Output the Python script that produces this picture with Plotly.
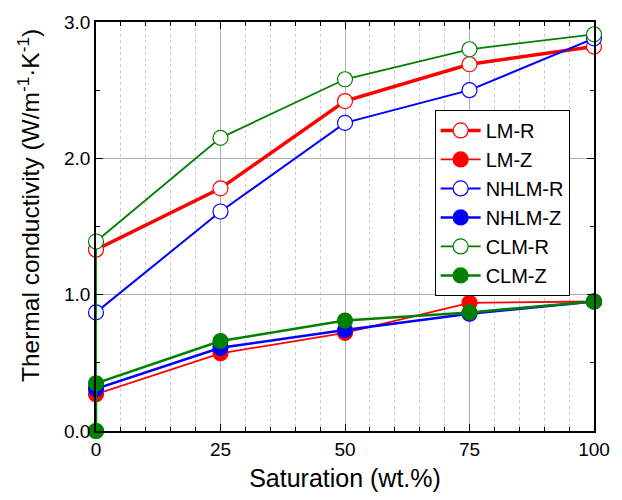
import plotly.graph_objects as go

saturation = [0, 25, 50, 75, 100]
lm_r = [1.33, 1.78, 2.42, 2.69, 2.82]
lm_z = [0.27, 0.57, 0.72, 0.94, 0.95]
nhlm_r = [0.87, 1.61, 2.26, 2.50, 2.88]
nhlm_z = [0.31, 0.61, 0.74, 0.86, 0.95]
clm_r_x = [0, 0, 25, 50, 75, 100]
clm_r = [0.0, 1.39, 2.15, 2.58, 2.80, 2.91]
clm_z_x = [0, 0, 25, 50, 75, 100]
clm_z = [0.0, 0.35, 0.66, 0.81, 0.87, 0.95]

RED = "#FF0000"
BLUE = "#0000FF"
GREEN = "#008000"

series = [
    ("LM-R", saturation, lm_r, RED, True, 3.5),
    ("LM-Z", saturation, lm_z, RED, False, 1.8),
    ("NHLM-R", saturation, nhlm_r, BLUE, True, 2.0),
    ("NHLM-Z", saturation, nhlm_z, BLUE, False, 2.5),
    ("CLM-R", clm_r_x, clm_r, GREEN, True, 1.8),
    ("CLM-Z", clm_z_x, clm_z, GREEN, False, 2.5),
]

fig = go.Figure()
for name, xs, ys, color, is_open, lw in series:
    fig.add_trace(go.Scatter(
        x=xs, y=ys, name=name, mode="lines+markers",
        line=dict(color=color, width=lw),
        marker=dict(
            size=15,
            color="white" if is_open else color,
            line=dict(color=color, width=1.2),
        ),
        cliponaxis=False,
    ))

font_family = "Arial, Liberation Sans, sans-serif"
fig.update_layout(
    width=622, height=500,
    margin=dict(l=96, r=22, t=20, b=69),
    plot_bgcolor="white", paper_bgcolor="white",
    font=dict(family=font_family, size=19, color="black"),
    legend=dict(
        x=0.68, y=0.785, xanchor="left", yanchor="top",
        bordercolor="black", borderwidth=1, bgcolor="white",
        font=dict(size=20), itemwidth=40, tracegroupgap=0,
    ),
    xaxis=dict(
        range=[0, 100], tickvals=[0, 25, 50, 75, 100],
        showline=True, linecolor="black", linewidth=1.5, mirror="ticks",
        ticks="inside", ticklen=7, tickcolor="black",
        showgrid=True, gridcolor="#b0b0b0", gridwidth=1,
        zeroline=False,
        minor=dict(dtick=5, ticks="inside", ticklen=4, tickcolor="black",
                   showgrid=True, gridcolor="#cccccc", griddash="dot", gridwidth=1),
        title=dict(text="Saturation (wt.%)", font=dict(size=25), standoff=11),
        tickfont=dict(size=19),
    ),
    yaxis=dict(
        range=[0, 3.0], tickvals=[0, 1, 2, 3], tickformat=".1f",
        showline=True, linecolor="black", linewidth=1.5, mirror="ticks",
        ticks="inside", ticklen=7, tickcolor="black",
        showgrid=True, gridcolor="#b0b0b0", gridwidth=1,
        zeroline=False,
        minor=dict(dtick=0.5, ticks="inside", ticklen=4, tickcolor="black", showgrid=False),
        tickfont=dict(size=19),
    ),
    annotations=[dict(
        text="Thermal conductivity (W/m<sup>-1</sup>·K<sup>-1</sup>)",
        xref="paper", yref="paper", x=-0.137, y=0.552,
        xanchor="center", yanchor="middle", textangle=-90,
        showarrow=False, font=dict(size=24.5),
    )],
)

fig.write_html("out.html")
